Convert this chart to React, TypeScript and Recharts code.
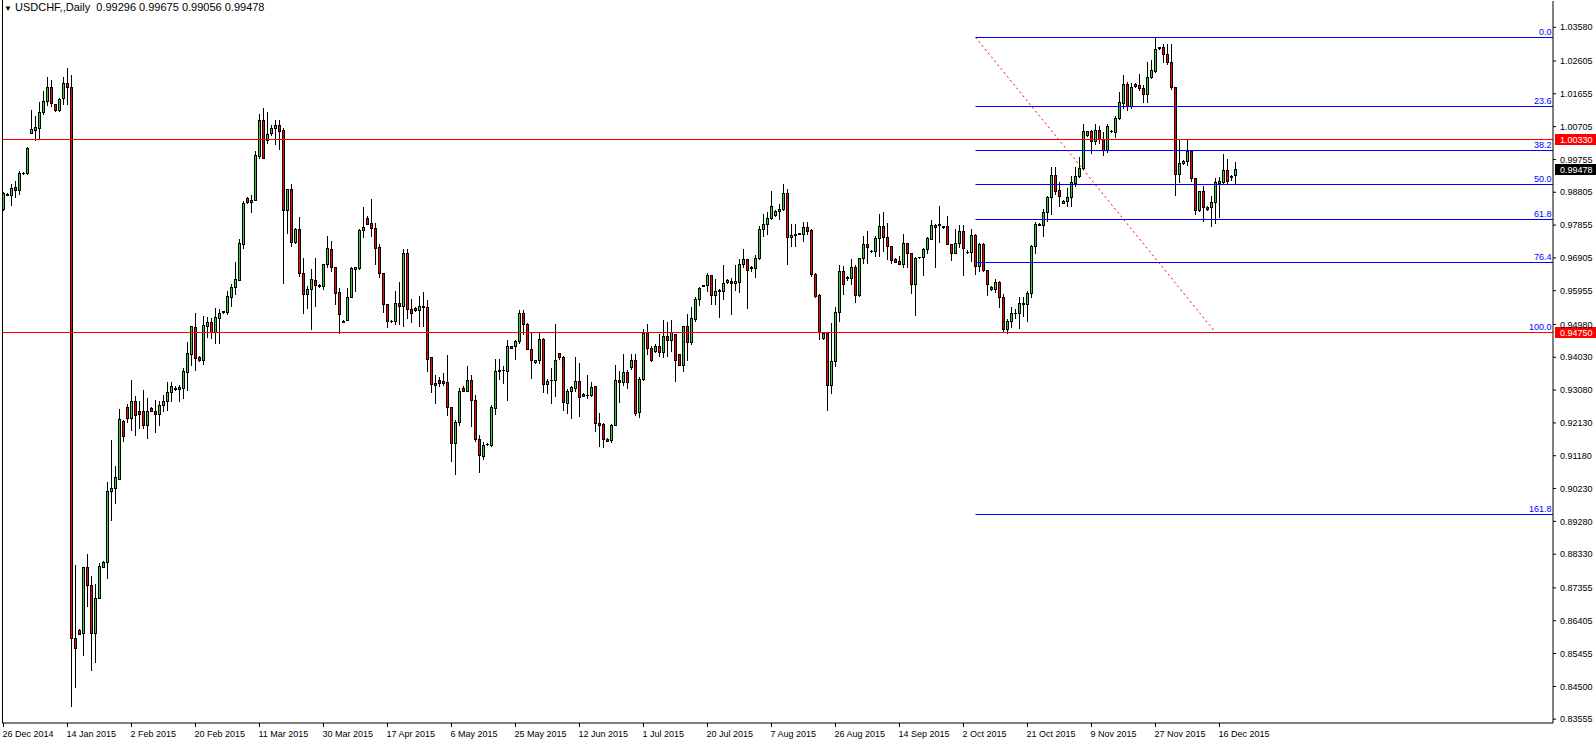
import React from "react";
import { ComposedChart, Bar, XAxis, YAxis, ReferenceLine } from "recharts";

const FONT = '"Liberation Sans", Arial, sans-serif';
const GREEN = "#32cd32";
const RED = "#ff0000";

const dateLabels = [
  "26 Dec 2014", "14 Jan 2015", "2 Feb 2015", "20 Feb 2015", "11 Mar 2015",
  "30 Mar 2015", "17 Apr 2015", "6 May 2015", "25 May 2015", "12 Jun 2015",
  "1 Jul 2015", "20 Jul 2015", "7 Aug 2015", "26 Aug 2015", "14 Sep 2015",
  "2 Oct 2015", "21 Oct 2015", "9 Nov 2015", "27 Nov 2015", "16 Dec 2015",
];
const labelBars = [0, 16, 32, 48, 64, 80, 96, 112, 128, 144, 160, 176, 192, 208, 224, 240, 256, 272, 288, 304];

const priceTicks = [
  1.0358, 1.02605, 1.01655, 1.00705, 0.99755, 0.98805, 0.97855, 0.96905, 0.95955, 0.9498,
  0.9403, 0.9308, 0.9213, 0.9118, 0.9023, 0.8928, 0.8833, 0.87355, 0.86405, 0.85455, 0.845, 0.83555,
];

const opens = [
  0.9833, 0.9876, 0.9873, 0.9895, 0.9888, 0.9935, 0.9935, 1.0052, 1.0061, 1.0067,
  1.0113, 1.0144, 1.0186, 1.0135, 1.0118, 1.0152, 1.0198, 1.0186, 0.8589, 0.8614,
  0.8606, 0.8795, 0.8743, 0.8606, 0.8707, 0.8797, 0.8811, 0.9016, 0.9025, 0.9052,
  0.9219, 0.9260, 0.9227, 0.9275, 0.9246, 0.9248, 0.9206, 0.9256, 0.9248, 0.9240,
  0.9266, 0.9275, 0.9303, 0.9312, 0.9312, 0.9314, 0.9361, 0.9413, 0.9490, 0.9403,
  0.9396, 0.9494, 0.9505, 0.9477, 0.9517, 0.9533, 0.9535, 0.9578, 0.9605, 0.9627,
  0.9732, 0.9864, 0.9852, 0.9858, 0.9985, 1.0091, 1.0032, 1.0052, 1.0067, 1.0074,
  1.0060, 0.9829, 0.9890, 0.9738, 0.9774, 0.9646, 0.9587, 0.9600, 0.9627, 0.9613,
  0.9609, 0.9672, 0.9716, 0.9665, 0.9592, 0.9508, 0.9510, 0.9577, 0.9658, 0.9660,
  0.9771, 0.9806, 0.9793, 0.9777, 0.9723, 0.9648, 0.9558, 0.9508, 0.9507, 0.9559,
  0.9550, 0.9704, 0.9542, 0.9545, 0.9539, 0.9550, 0.9548, 0.9403, 0.9329, 0.9338,
  0.9334, 0.9331, 0.9259, 0.9154, 0.9215, 0.9314, 0.9306, 0.9338, 0.9280, 0.9167,
  0.9117, 0.9151, 0.9150, 0.9256, 0.9364, 0.9366, 0.9364, 0.9435, 0.9435, 0.9450,
  0.9530, 0.9498, 0.9428, 0.9388, 0.9394, 0.9455, 0.9327, 0.9336, 0.9336, 0.9414,
  0.9404, 0.9270, 0.9306, 0.9314, 0.9335, 0.9298, 0.9295, 0.9295, 0.9319, 0.9214,
  0.9211, 0.9166, 0.9164, 0.9208, 0.9338, 0.9331, 0.9360, 0.9375, 0.9396, 0.9245,
  0.9341, 0.9474, 0.9430, 0.9421, 0.9435, 0.9418, 0.9464, 0.9452, 0.9471, 0.9411,
  0.9382, 0.9493, 0.9448, 0.9515, 0.9571, 0.9610, 0.9612, 0.9640, 0.9582, 0.9595,
  0.9595, 0.9620, 0.9624, 0.9617, 0.9622, 0.9672, 0.9687, 0.9663, 0.9662, 0.9690,
  0.9774, 0.9789, 0.9806, 0.9815, 0.9825, 0.9832, 0.9879, 0.9750, 0.9757, 0.9762,
  0.9761, 0.9781, 0.9771, 0.9645, 0.9582, 0.9460, 0.9474, 0.9324, 0.9393, 0.9535,
  0.9653, 0.9634, 0.9633, 0.9665, 0.9582, 0.9690, 0.9731, 0.9711, 0.9711, 0.9748,
  0.9784, 0.9752, 0.9726, 0.9687, 0.9682, 0.9674, 0.9733, 0.9704, 0.9616, 0.9692,
  0.9692, 0.9716, 0.9745, 0.9787, 0.9785, 0.9782, 0.9782, 0.9731, 0.9704, 0.9735,
  0.9769, 0.9708, 0.9709, 0.9757, 0.9666, 0.9731, 0.9656, 0.9607, 0.9600, 0.9621,
  0.9576, 0.9485, 0.9507, 0.9531, 0.9530, 0.9559, 0.9556, 0.9588, 0.9726, 0.9788,
  0.9786, 0.9824, 0.9866, 0.9931, 0.9887, 0.9849, 0.9854, 0.9868, 0.9908, 0.9927,
  0.9950, 1.0045, 1.0057, 1.0028, 1.0060, 1.0034, 1.0004, 1.0058, 1.0055, 1.0095,
  1.0139, 1.0195, 1.0129, 1.0195, 1.0190, 1.0183, 1.0166, 1.0213, 1.0232, 1.0300,
  1.0300, 1.0282, 1.0258, 1.0186, 0.9932, 0.9965, 0.9971, 1.0000, 0.9922, 0.9829,
  0.9883, 0.9838, 0.9837, 0.9851, 0.9907, 0.9910, 0.9946, 0.9929, 0.99296,
];

const highs = [
  0.9880, 0.9878, 0.9905, 0.9914, 0.9941, 0.9940, 1.0012, 1.0120, 1.0100, 1.0142,
  1.0175, 1.0214, 1.0205, 1.0137, 1.0154, 1.0214, 1.0240, 1.0220, 0.8803, 0.8616,
  0.8795, 0.8834, 0.8771, 0.8747, 0.8808, 0.8813, 0.9043, 0.9164, 0.9088, 0.9254,
  0.9222, 0.9268, 0.9338, 0.9290, 0.9275, 0.9307, 0.9285, 0.9258, 0.9280, 0.9275,
  0.9295, 0.9331, 0.9331, 0.9319, 0.9324, 0.9372, 0.9447, 0.9494, 0.9530, 0.9406,
  0.9522, 0.9520, 0.9517, 0.9545, 0.9542, 0.9537, 0.9595, 0.9614, 0.9680, 0.9745,
  0.9856, 0.9866, 0.9874, 0.9999, 1.0106, 1.0125, 1.0113, 1.0076, 1.0091, 1.0091,
  1.0067, 0.9890, 0.9903, 0.9777, 0.9808, 0.9689, 0.9609, 0.9658, 0.9690, 0.9616,
  0.9672, 0.9755, 0.9740, 0.9665, 0.9604, 0.9512, 0.9604, 0.9663, 0.9663, 0.9774,
  0.9837, 0.9811, 0.9861, 0.9793, 0.9730, 0.9648, 0.9558, 0.9511, 0.9595, 0.9621,
  0.9716, 0.9716, 0.9571, 0.9547, 0.9580, 0.9593, 0.9568, 0.9403, 0.9353, 0.9345,
  0.9358, 0.9409, 0.9259, 0.9222, 0.9314, 0.9319, 0.9377, 0.9351, 0.9293, 0.9178,
  0.9159, 0.9155, 0.9266, 0.9399, 0.9399, 0.9378, 0.9452, 0.9437, 0.9452, 0.9540,
  0.9540, 0.9503, 0.9474, 0.9395, 0.9474, 0.9460, 0.9340, 0.9372, 0.9498, 0.9414,
  0.9406, 0.9312, 0.9319, 0.9403, 0.9387, 0.9300, 0.9353, 0.9332, 0.9321, 0.9242,
  0.9213, 0.9168, 0.9210, 0.9382, 0.9364, 0.9413, 0.9367, 0.9413, 0.9413, 0.9345,
  0.9484, 0.9498, 0.9435, 0.9440, 0.9469, 0.9511, 0.9506, 0.9510, 0.9471, 0.9413,
  0.9493, 0.9527, 0.9547, 0.9576, 0.9605, 0.9613, 0.9646, 0.9640, 0.9629, 0.9600,
  0.9670, 0.9630, 0.9632, 0.9670, 0.9687, 0.9716, 0.9687, 0.9668, 0.9700, 0.9784,
  0.9818, 0.9823, 0.9884, 0.9830, 0.9847, 0.9903, 0.9890, 0.9790, 0.9789, 0.9764,
  0.9795, 0.9794, 0.9774, 0.9648, 0.9585, 0.9475, 0.9476, 0.9503, 0.9548, 0.9670,
  0.9667, 0.9637, 0.9687, 0.9671, 0.9690, 0.9755, 0.9769, 0.9714, 0.9755, 0.9818,
  0.9823, 0.9793, 0.9726, 0.9689, 0.9697, 0.9759, 0.9735, 0.9706, 0.9692, 0.9694,
  0.9718, 0.9750, 0.9801, 0.9789, 0.9842, 0.9784, 0.9813, 0.9731, 0.9774, 0.9786,
  0.9786, 0.9712, 0.9774, 0.9760, 0.9735, 0.9735, 0.9656, 0.9609, 0.9629, 0.9624,
  0.9585, 0.9513, 0.9549, 0.9542, 0.9576, 0.9576, 0.9595, 0.9728, 0.9795, 0.9791,
  0.9832, 0.9871, 0.9955, 0.9955, 0.9910, 0.9858, 0.9892, 0.9929, 0.9955, 0.9982,
  1.0077, 1.0059, 1.0060, 1.0077, 1.0072, 1.0055, 1.0077, 1.0062, 1.0100, 1.0171,
  1.0219, 1.0200, 1.0197, 1.0197, 1.0224, 1.0190, 1.0258, 1.0263, 1.0329, 1.0301,
  1.0309, 1.0309, 1.0309, 1.0186, 1.0031, 0.9973, 1.0031, 1.0000, 0.9922, 0.9883,
  0.9900, 0.9840, 0.9871, 0.9922, 0.9924, 0.9990, 0.9976, 0.9930, 0.99675,
];

const lows = [
  0.9829, 0.9872, 0.9843, 0.9867, 0.9876, 0.9932, 0.9934, 1.0052, 1.0031, 1.0038,
  1.0106, 1.0132, 1.0130, 1.0117, 1.0117, 1.0136, 1.0136, 0.8394, 0.8448, 0.8601,
  0.8540, 0.8683, 0.8499, 0.8522, 0.8705, 0.8796, 0.8763, 0.8933, 0.8981, 0.9052,
  0.9161, 0.9215, 0.9193, 0.9179, 0.9198, 0.9198, 0.9169, 0.9246, 0.9186, 0.9208,
  0.9248, 0.9250, 0.9277, 0.9307, 0.9275, 0.9285, 0.9309, 0.9380, 0.9365, 0.9393,
  0.9384, 0.9461, 0.9459, 0.9445, 0.9445, 0.9532, 0.9529, 0.9551, 0.9587, 0.9627,
  0.9719, 0.9850, 0.9823, 0.9858, 0.9979, 0.9979, 1.0023, 1.0045, 1.0019, 1.0006,
  0.9619, 0.9764, 0.9724, 0.9735, 0.9638, 0.9530, 0.9546, 0.9486, 0.9551, 0.9606,
  0.9600, 0.9663, 0.9653, 0.9556, 0.9474, 0.9504, 0.9510, 0.9577, 0.9595, 0.9658,
  0.9750, 0.9790, 0.9755, 0.9672, 0.9634, 0.9535, 0.9490, 0.9504, 0.9498, 0.9500,
  0.9493, 0.9517, 0.9506, 0.9537, 0.9493, 0.9493, 0.9362, 0.9302, 0.9270, 0.9320,
  0.9324, 0.9235, 0.9104, 0.9065, 0.9206, 0.9304, 0.9306, 0.9205, 0.9162, 0.9072,
  0.9109, 0.9149, 0.9145, 0.9238, 0.9340, 0.9328, 0.9280, 0.9429, 0.9398, 0.9445,
  0.9469, 0.9426, 0.9343, 0.9386, 0.9387, 0.9302, 0.9300, 0.9271, 0.9290, 0.9399,
  0.9251, 0.9241, 0.9227, 0.9306, 0.9232, 0.9290, 0.9285, 0.9290, 0.9190, 0.9145,
  0.9142, 0.9160, 0.9159, 0.9206, 0.9274, 0.9324, 0.9314, 0.9370, 0.9235, 0.9230,
  0.9338, 0.9413, 0.9392, 0.9418, 0.9406, 0.9403, 0.9406, 0.9421, 0.9335, 0.9380,
  0.9363, 0.9396, 0.9440, 0.9508, 0.9554, 0.9609, 0.9595, 0.9556, 0.9556, 0.9520,
  0.9571, 0.9618, 0.9527, 0.9597, 0.9593, 0.9663, 0.9545, 0.9653, 0.9636, 0.9687,
  0.9755, 0.9760, 0.9803, 0.9812, 0.9803, 0.9830, 0.9672, 0.9726, 0.9726, 0.9759,
  0.9740, 0.9760, 0.9638, 0.9576, 0.9455, 0.9455, 0.9251, 0.9300, 0.9377, 0.9508,
  0.9587, 0.9628, 0.9614, 0.9564, 0.9580, 0.9677, 0.9677, 0.9708, 0.9697, 0.9697,
  0.9711, 0.9687, 0.9677, 0.9678, 0.9672, 0.9665, 0.9665, 0.9588, 0.9524, 0.9690,
  0.9641, 0.9706, 0.9745, 0.9663, 0.9738, 0.9777, 0.9731, 0.9685, 0.9704, 0.9721,
  0.9640, 0.9704, 0.9682, 0.9643, 0.9653, 0.9653, 0.9582, 0.9598, 0.9592, 0.9548,
  0.9479, 0.9472, 0.9491, 0.9518, 0.9488, 0.9522, 0.9508, 0.9576, 0.9706, 0.9785,
  0.9753, 0.9798, 0.9818, 0.9876, 0.9842, 0.9848, 0.9842, 0.9840, 0.9900, 0.9926,
  0.9948, 1.0043, 0.9995, 1.0021, 1.0023, 0.9987, 0.9997, 1.0055, 1.0040, 1.0093,
  1.0123, 1.0118, 1.0123, 1.0186, 1.0176, 1.0142, 1.0142, 1.0210, 1.0229, 1.0295,
  1.0258, 1.0253, 1.0178, 0.9873, 0.9910, 0.9963, 0.9958, 0.9913, 0.9818, 0.9825,
  0.9798, 0.9829, 0.9784, 0.9793, 0.9808, 0.9903, 0.9903, 0.9915, 0.99056,
];

const closes = [
  0.9878, 0.9874, 0.9894, 0.9887, 0.9936, 0.9937, 1.0010, 1.0065, 1.0068, 1.0114,
  1.0146, 1.0186, 1.0138, 1.0119, 1.0150, 1.0197, 1.0186, 0.8589, 0.8561, 0.8603,
  0.8795, 0.8743, 0.8606, 0.8707, 0.8799, 0.8811, 0.9016, 0.9025, 0.9055, 0.9225,
  0.9176, 0.9227, 0.9275, 0.9237, 0.9239, 0.9206, 0.9246, 0.9248, 0.9240, 0.9266,
  0.9277, 0.9302, 0.9319, 0.9313, 0.9316, 0.9363, 0.9415, 0.9493, 0.9401, 0.9396,
  0.9496, 0.9505, 0.9477, 0.9519, 0.9531, 0.9536, 0.9580, 0.9607, 0.9629, 0.9735,
  0.9849, 0.9852, 0.9859, 0.9987, 1.0091, 0.9979, 1.0050, 1.0067, 1.0074, 1.0058,
  0.9829, 0.9890, 0.9738, 0.9774, 0.9646, 0.9585, 0.9600, 0.9629, 0.9611, 0.9610,
  0.9672, 0.9719, 0.9663, 0.9590, 0.9527, 0.9506, 0.9577, 0.9660, 0.9663, 0.9771,
  0.9781, 0.9790, 0.9777, 0.9720, 0.9648, 0.9556, 0.9507, 0.9507, 0.9559, 0.9550,
  0.9704, 0.9542, 0.9532, 0.9539, 0.9551, 0.9548, 0.9399, 0.9326, 0.9324, 0.9329,
  0.9329, 0.9259, 0.9154, 0.9217, 0.9304, 0.9306, 0.9338, 0.9280, 0.9167, 0.9120,
  0.9149, 0.9153, 0.9258, 0.9364, 0.9366, 0.9365, 0.9437, 0.9431, 0.9450, 0.9530,
  0.9498, 0.9428, 0.9394, 0.9394, 0.9455, 0.9327, 0.9335, 0.9337, 0.9396, 0.9404,
  0.9273, 0.9306, 0.9316, 0.9333, 0.9287, 0.9292, 0.9293, 0.9317, 0.9214, 0.9208,
  0.9167, 0.9162, 0.9208, 0.9338, 0.9331, 0.9360, 0.9332, 0.9396, 0.9242, 0.9341,
  0.9474, 0.9430, 0.9394, 0.9435, 0.9419, 0.9464, 0.9452, 0.9476, 0.9394, 0.9382,
  0.9493, 0.9448, 0.9518, 0.9573, 0.9603, 0.9612, 0.9640, 0.9582, 0.9595, 0.9597,
  0.9617, 0.9626, 0.9617, 0.9624, 0.9672, 0.9687, 0.9655, 0.9662, 0.9690, 0.9774,
  0.9789, 0.9806, 0.9842, 0.9827, 0.9832, 0.9879, 0.9750, 0.9758, 0.9760, 0.9761,
  0.9781, 0.9769, 0.9645, 0.9580, 0.9477, 0.9472, 0.9324, 0.9393, 0.9535, 0.9653,
  0.9616, 0.9631, 0.9665, 0.9582, 0.9690, 0.9731, 0.9721, 0.9710, 0.9748, 0.9784,
  0.9750, 0.9726, 0.9684, 0.9680, 0.9674, 0.9733, 0.9704, 0.9616, 0.9690, 0.9692,
  0.9716, 0.9747, 0.9787, 0.9779, 0.9788, 0.9779, 0.9731, 0.9704, 0.9733, 0.9769,
  0.9719, 0.9708, 0.9757, 0.9666, 0.9731, 0.9656, 0.9614, 0.9600, 0.9621, 0.9576,
  0.9485, 0.9508, 0.9532, 0.9532, 0.9559, 0.9557, 0.9588, 0.9726, 0.9789, 0.9787,
  0.9824, 0.9868, 0.9931, 0.9885, 0.9871, 0.9856, 0.9868, 0.9910, 0.9929, 0.9950,
  1.0057, 1.0057, 1.0028, 1.0060, 1.0034, 1.0002, 1.0071, 1.0059, 1.0095, 1.0142,
  1.0195, 1.0129, 1.0184, 1.0188, 1.0183, 1.0166, 1.0213, 1.0234, 1.0295, 1.0298,
  1.0282, 1.0258, 1.0186, 0.9932, 0.9965, 0.9970, 1.0000, 0.9922, 0.9829, 0.9883,
  0.9837, 0.9832, 0.9853, 0.9910, 0.9912, 0.9946, 0.9913, 0.9924, 0.99478,
];

// horizontal lines and fibonacci anchors
const hLines = [1.0033, 0.9475];
const lastPrice = 0.99478;
const fibHigh = 1.0329;
const fibLow = 0.9475;
const fibStartBar = 243;
const fibEndBar = 303;
const fibRatios = [0, 0.236, 0.382, 0.5, 0.618, 0.764, 1, 1.618];
const fibNames = ["0.0", "23.6", "38.2", "50.0", "61.8", "76.4", "100.0", "161.8"];

const X_MAX = 387.375;
const Y_DOMAIN = [0.83444, 1.04341];

const candles = opens.map((o, i) => ({ i, open: o, high: highs[i], low: lows[i], close: closes[i] }));

const Candle = (props: any) => {
  const { x, y, width, height, payload } = props;
  if (!payload || x == null || y == null) return null;
  const { open, high, low, close } = payload;
  const top = Math.min(y, y + height);
  const bot = Math.max(y, y + height);
  const span = high - low || 1e-9;
  const yOf = (v: number) => top + ((high - v) / span) * (bot - top);
  const cx = Math.floor(x + width / 2) + 0.5;
  const bull = close >= open;
  const y1 = Math.round(yOf(Math.max(open, close)));
  const y2 = Math.round(yOf(Math.min(open, close)));
  return (
    <g>
      <line x1={cx} x2={cx} y1={Math.round(top)} y2={Math.round(bot) + 1} stroke="#000" strokeWidth={1} />
      {y2 - y1 >= 1 ? (
        <rect x={cx - 1} y={y1 + 0.5} width={2} height={y2 - y1} fill={bull ? GREEN : RED} stroke="#000" strokeWidth={1} />
      ) : (
        <line x1={cx - 1.5} x2={cx + 1.5} y1={y1 + 0.5} y2={y1 + 0.5} stroke="#000" strokeWidth={1} />
      )}
    </g>
  );
};

// pixel-snapped horizontal line so it stays 1px sharp like the terminal
const crispLine = (color: string) => (p: any) => {
  const yy = Math.floor(p.y1) + 0.5;
  return <line x1={p.x1} x2={p.x2} y1={yy} y2={yy} stroke={color} strokeWidth={1} />;
};

const XTick = (props: any) => {
  const { x, y, payload } = props;
  const k = labelBars.indexOf(payload.value);
  if (k < 0) return null;
  return (
    <text x={x - 1} y={y + 9.5} fontSize={9} fontFamily={FONT} fill="#000" textAnchor="start">
      {dateLabels[k]}
    </text>
  );
};

const priceBox = (value: number, bg: string) => (props: any) => {
  const vb = props.viewBox;
  if (!vb) return null;
  const bx = vb.x + vb.width + 2;
  const yy = Math.floor(vb.y);
  return (
    <g>
      <rect x={bx} y={yy - 5} width={41} height={11} fill={bg} />
      <text x={bx + 5} y={yy + 4} fontSize={9} fontFamily={FONT} fill="#fff">
        {value.toFixed(5)}
      </text>
    </g>
  );
};

const fibLabel = (name: string) => (props: any) => {
  const vb = props.viewBox;
  if (!vb) return null;
  return (
    <text x={vb.x + vb.width - 1.5} y={Math.floor(vb.y) - 2} fontSize={9} fontFamily={FONT} fill="#0000ff" textAnchor="end">
      {name}
    </text>
  );
};

export default function App() {
  return (
    <div style={{ position: "relative", width: 1596, height: 744, background: "#fff" }}>
      <style>{"body{margin:0;background:#fff}"}</style>
      <ComposedChart width={1596} height={744} data={candles} margin={{ top: 1, right: 0, bottom: 0, left: 2 }}>
        <XAxis
          dataKey="i"
          type="number"
          domain={[-0.375, X_MAX]}
          ticks={labelBars}
          interval={0}
          allowDataOverflow
          height={21}
          tickSize={4}
          tickMargin={0}
          axisLine={{ stroke: "#000" }}
          tickLine={{ stroke: "#000" }}
          tick={<XTick />}
        />
        <YAxis
          orientation="right"
          type="number"
          domain={Y_DOMAIN}
          ticks={priceTicks}
          interval={0}
          allowDataOverflow
          width={43}
          tickSize={3}
          tickMargin={4}
          axisLine={{ stroke: "#000" }}
          tickLine={{ stroke: "#000" }}
          tick={{ fontSize: 9, fill: "#000", fontFamily: FONT }}
          tickFormatter={(v: number) => v.toFixed(5)}
        />
        {fibRatios.map((r, k) => {
          const v = fibHigh - r * (fibHigh - fibLow);
          return (
            <ReferenceLine
              key={"fib" + k}
              segment={[{ x: fibStartBar, y: v }, { x: X_MAX, y: v }]}
              stroke="#0000ff"
              ifOverflow="visible"
              shape={crispLine("#0000ff")}
              label={fibLabel(fibNames[k])}
            />
          );
        })}
        <ReferenceLine
          segment={[{ x: fibStartBar, y: fibHigh }, { x: fibEndBar, y: fibLow }]}
          stroke="#ff0000"
          strokeWidth={1}
          strokeDasharray="2 3"
          ifOverflow="visible"
        />
        {hLines.map((v) => (
          <ReferenceLine
            key={"h" + v}
            y={v}
            stroke="#ff0000"
            shape={crispLine("#ff0000")}
            label={priceBox(v, "#ff0000")}
          />
        ))}
        <ReferenceLine y={lastPrice} stroke="none" shape={() => <g />} label={priceBox(lastPrice, "#000")} />
        <Bar
          dataKey={(d: any) => [d.low, d.high]}
          barSize={3}
          shape={(p: any) => <Candle {...p} />}
          isAnimationActive={false}
        />
      </ComposedChart>
      <div style={{ position: "absolute", left: 2, top: 0, width: 1, height: 723, background: "#000" }} />
      <div
        style={{
          position: "absolute",
          left: 4,
          top: 1,
          fontFamily: FONT,
          fontSize: 11,
          color: "#000",
          whiteSpace: "pre",
          lineHeight: "13px",
        }}
      >
        <span style={{ fontSize: 8 }}>▼</span> USDCHF,,Daily  0.99296 0.99675 0.99056 0.99478
      </div>
    </div>
  );
}
